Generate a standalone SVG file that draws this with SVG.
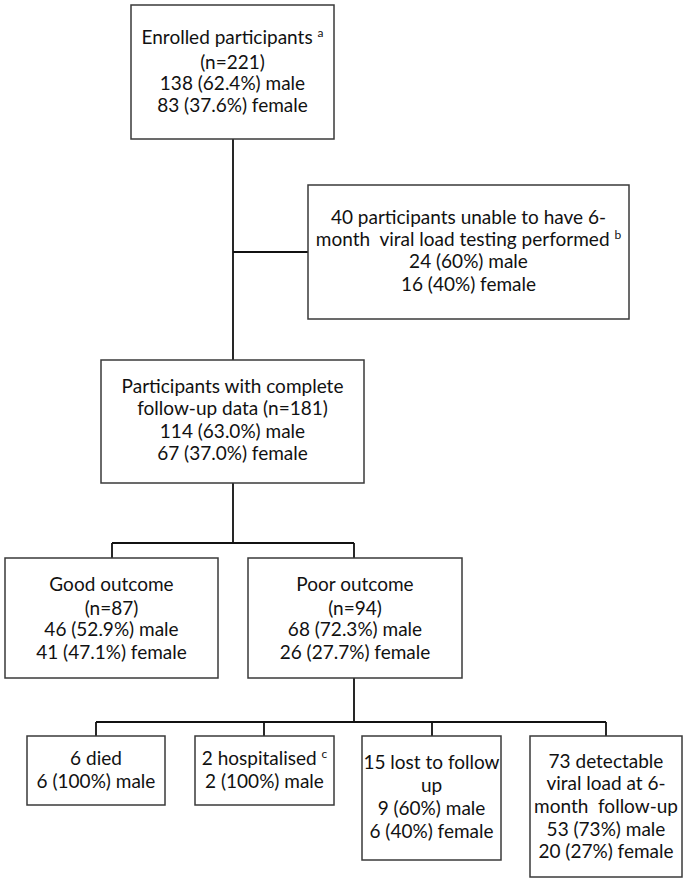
<svg xmlns="http://www.w3.org/2000/svg" width="685" height="883" viewBox="0 0 685 883">
<style>
.box{fill:#fff;stroke:#3a3a3a;stroke-width:1.5}
.conn{fill:none;stroke:#111;stroke-width:1.8}
text{font-family:Lato,"Open Sans",sans-serif;font-size:19px;fill:#111;text-anchor:middle}
.sup{font-size:12px}
</style>
<rect width="685" height="883" fill="#fff"/>
<g id="connectors">
<path class="conn" d="M233 139V483M233 252H308"/>
<path class="conn" d="M233 483V543M112 543H354M112 543V558M354 543V558"/>
<path class="conn" d="M354 678V722M96 722H606M96 722V736M264 722V736M432 722V736M606 722V736"/>
</g>
<g id="enrolled">
<rect class="box" x="131" y="5" width="203" height="134"/>
<text x="232.5" y="44">Enrolled participants <tspan class="sup" dy="-7">a</tspan></text>
<text x="232.5" y="69">(n=221)</text>
<text x="232.5" y="90">138 (62.4%) male</text>
<text x="232.5" y="112">83 (37.6%) female</text>
</g>
<g id="excluded">
<rect class="box" x="308" y="185" width="321" height="134"/>
<text x="468.5" y="224">40 participants unable to have 6-</text>
<text x="468.5" y="246" xml:space="preserve">month  viral load testing performed <tspan class="sup" dy="-7">b</tspan></text>
<text x="468.5" y="268">24 (60%) male</text>
<text x="468.5" y="291">16 (40%) female</text>
</g>
<g id="complete">
<rect class="box" x="101" y="360" width="263" height="123"/>
<text x="232.5" y="393">Participants with complete</text>
<text x="232.5" y="415">follow-up data (n=181)</text>
<text x="232.5" y="438">114 (63.0%) male</text>
<text x="232.5" y="460">67 (37.0%) female</text>
</g>
<g id="good">
<rect class="box" x="5" y="558" width="213" height="120"/>
<text x="111.5" y="591">Good outcome</text>
<text x="111.5" y="615">(n=87)</text>
<text x="111.5" y="636">46 (52.9%) male</text>
<text x="111.5" y="659">41 (47.1%) female</text>
</g>
<g id="poor">
<rect class="box" x="248" y="558" width="214" height="120"/>
<text x="355" y="591">Poor outcome</text>
<text x="355" y="615">(n=94)</text>
<text x="355" y="636">68 (72.3%) male</text>
<text x="355" y="659">26 (27.7%) female</text>
</g>
<g id="died">
<rect class="box" x="27" y="736" width="138" height="69"/>
<text x="96" y="765">6 died</text>
<text x="96" y="788">6 (100%) male</text>
</g>
<g id="hospitalised">
<rect class="box" x="195" y="736" width="139" height="69"/>
<text x="264.5" y="765">2 hospitalised <tspan class="sup" dy="-7">c</tspan></text>
<text x="264.5" y="788">2 (100%) male</text>
</g>
<g id="lost">
<rect class="box" x="362" y="736" width="139" height="124"/>
<text x="431.5" y="769">15 lost to follow</text>
<text x="431.5" y="792">up</text>
<text x="431.5" y="815">9 (60%) male</text>
<text x="431.5" y="838">6 (40%) female</text>
</g>
<g id="detectable">
<rect class="box" x="530" y="736" width="152" height="141"/>
<text x="606" y="768">73 detectable</text>
<text x="606" y="790">viral load at 6-</text>
<text x="606" y="813" xml:space="preserve">month  follow-up</text>
<text x="606" y="836">53 (73%) male</text>
<text x="606" y="858">20 (27%) female</text>
</g>
</svg>
